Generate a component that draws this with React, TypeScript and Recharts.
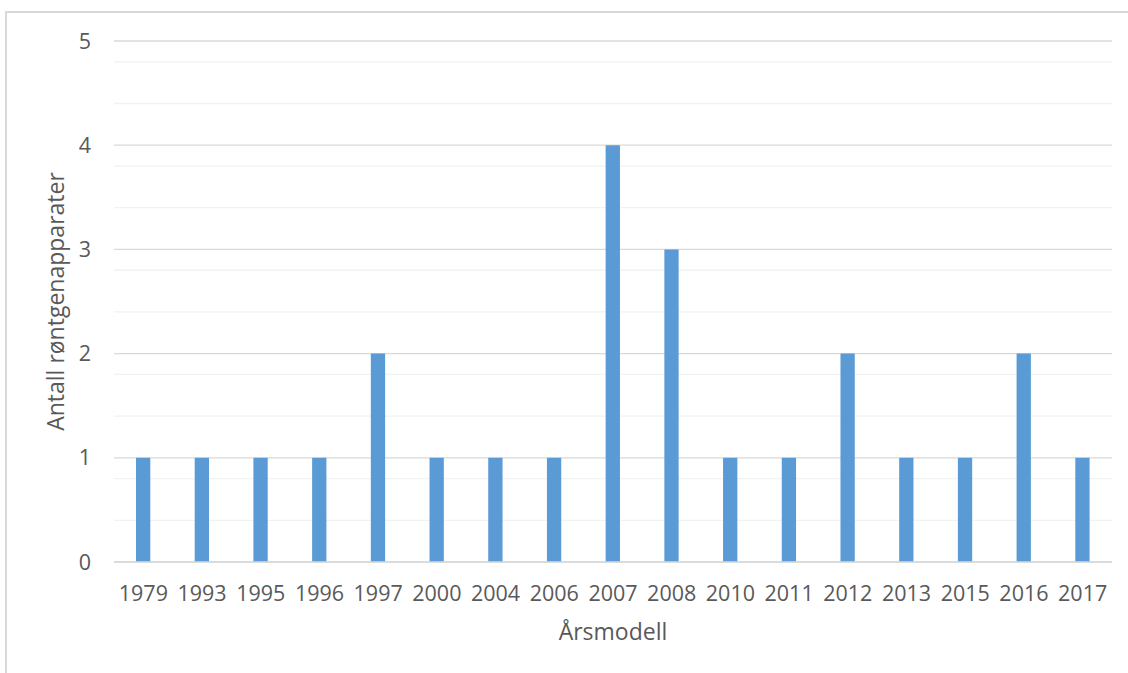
import React from "react";
import { BarChart, Bar, XAxis, YAxis, CartesianGrid } from "recharts";

// Number of X-ray units per model year
const years = [
  "1979", "1993", "1995", "1996", "1997", "2000", "2004", "2006", "2007",
  "2008", "2010", "2011", "2012", "2013", "2015", "2016", "2017",
];
const counts = [1, 1, 1, 1, 2, 1, 1, 1, 4, 3, 1, 1, 2, 1, 1, 2, 1];
const yTicks = [0, 1, 2, 3, 4, 5];

const xTitle = "Årsmodell";
const yTitle = "Antall røntgenapparater";

const FONT = "'Open Sans', 'Noto Sans', sans-serif";
const TEXT = "#595959";
const MAJOR = "#D9D9D9";
const MINOR = "#F2F2F2";
const BAR = "#5B9BD5";

const data = years.map((year, i) => ({ year, count: counts[i] }));

// minor gridlines every 0.2 between the integer ticks
const minorLines = yTicks
  .slice(0, -1)
  .flatMap((t) => [1, 2, 3, 4].map((k) => t + k * 0.2));

type Box = { x: number; y: number; width: number; height: number };

const YTitle = (props: { viewBox?: Box }) => {
  const vb = props.viewBox as Box;
  const x = vb.x + 64;
  const y = vb.y + vb.height / 2;
  return (
    <text
      x={x}
      y={y}
      transform={`rotate(-90, ${x}, ${y})`}
      textAnchor="middle"
      fill={TEXT}
      fontSize={23}
      fontFamily={FONT}
    >
      {yTitle}
    </text>
  );
};

const XTitle = (props: { viewBox?: Box }) => {
  const vb = props.viewBox as Box;
  return (
    <text
      x={vb.x + vb.width / 2}
      y={vb.y + 78}
      textAnchor="middle"
      fill={TEXT}
      fontSize={23}
      fontFamily={FONT}
    >
      {xTitle}
    </text>
  );
};

export default function App() {
  return (
    <div
      style={{
        position: "absolute",
        left: 0,
        top: 0,
        width: 1128,
        height: 673,
        overflow: "hidden",
        background: "#ffffff",
      }}
    >
      {/* chart frame, runs off the right and bottom edges */}
      <div
        style={{
          position: "absolute",
          left: 5,
          top: 11,
          width: 1200,
          height: 750,
          border: `2px solid ${MAJOR}`,
          boxSizing: "border-box",
        }}
      />
      <div style={{ position: "absolute", left: 0, top: 0 }}>
        <BarChart
          width={1128}
          height={673}
          data={data}
          margin={{ top: 41, right: 16, bottom: 0, left: 0 }}
          barCategoryGap={0}
        >
          <CartesianGrid
            vertical={false}
            horizontalValues={minorLines}
            stroke={MINOR}
            strokeWidth={1.3}
          />
          <CartesianGrid vertical={false} stroke={MAJOR} strokeWidth={1.3} />
          <XAxis
            dataKey="year"
            height={111}
            tickSize={0}
            tickMargin={24}
            axisLine={{ stroke: MAJOR, strokeWidth: 1.3 }}
            tickLine={false}
            interval={0}
            tick={{ fill: TEXT, fontSize: 21.5, fontFamily: FONT }}
            label={<XTitle />}
          />
          <YAxis
            width={114}
            domain={[0, 5]}
            ticks={yTicks}
            tickSize={0}
            tickMargin={23}
            axisLine={false}
            tickLine={false}
            tick={{ fill: TEXT, fontSize: 21.5, fontFamily: FONT }}
            label={<YTitle />}
          />
          <Bar
            dataKey="count"
            fill={BAR}
            barSize={14.3}
            isAnimationActive={false}
          />
        </BarChart>
      </div>
    </div>
  );
}
